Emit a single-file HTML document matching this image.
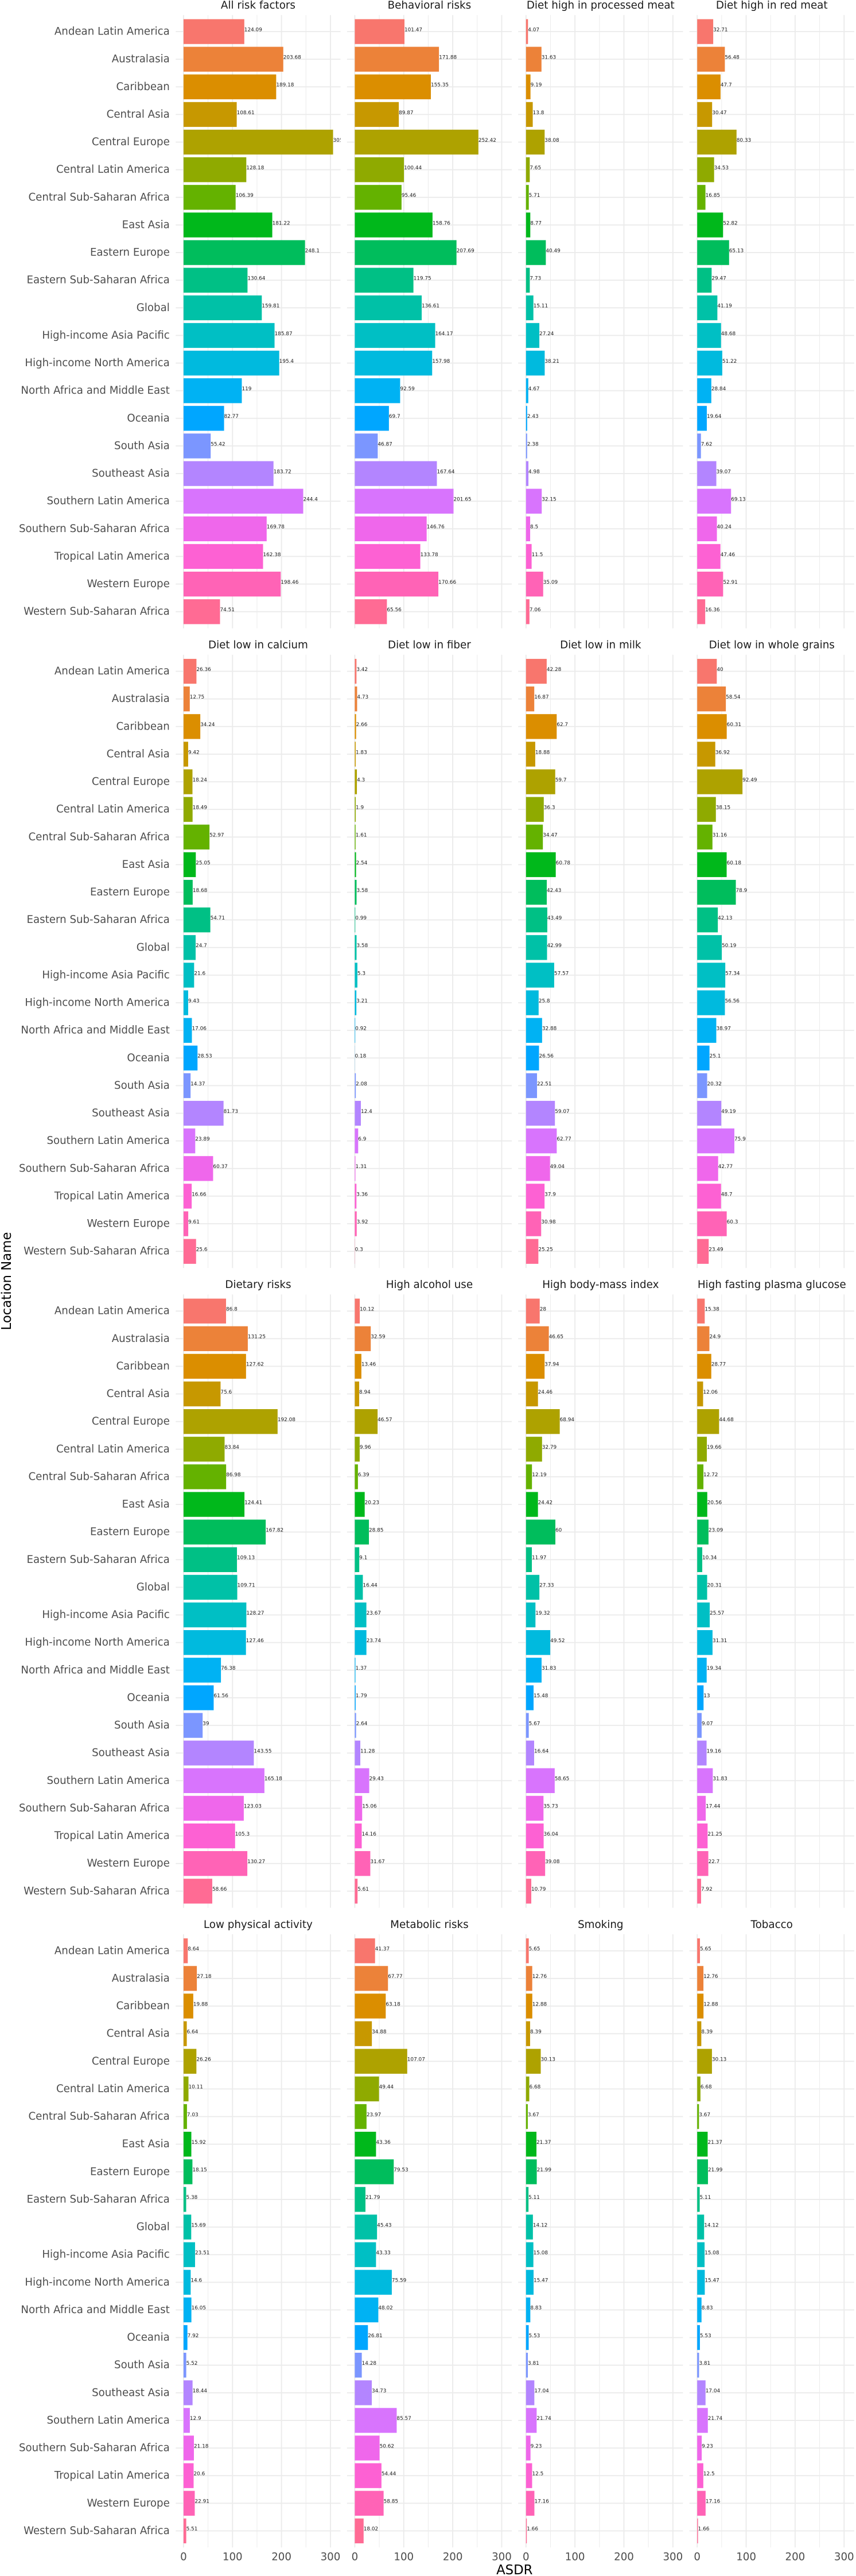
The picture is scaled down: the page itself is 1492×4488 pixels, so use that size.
<!DOCTYPE html>
<html lang="en">
<head>
<meta charset="utf-8">
<title>ASDR by location and risk factor</title>
<style>
  html, body { margin: 0; padding: 0; background: #ffffff; }
  #chart { display: block; }
  text { font-family: "DejaVu Sans", "Liberation Sans", sans-serif; }
</style>
</head>
<body>
<svg id="chart" xmlns="http://www.w3.org/2000/svg" width="1492" height="4488" viewBox="0 0 1492 4488">
  <rect x="0" y="0" width="1492" height="4488" fill="#ffffff"></rect>
  <defs id="clips"></defs>
  <g id="panels"></g>
  <text transform="translate(12,2232) rotate(-90)" text-anchor="middle" dominant-baseline="central" font-size="22.8" fill="#000000">Location Name</text>
  <text x="896.8" y="4478" text-anchor="middle" dominant-baseline="central" font-size="22.8" fill="#000000">ASDR</text>
</svg>
<script>
const categories = ["Andean Latin America","Australasia","Caribbean","Central Asia","Central Europe","Central Latin America","Central Sub-Saharan Africa","East Asia","Eastern Europe","Eastern Sub-Saharan Africa","Global","High-income Asia Pacific","High-income North America","North Africa and Middle East","Oceania","South Asia","Southeast Asia","Southern Latin America","Southern Sub-Saharan Africa","Tropical Latin America","Western Europe","Western Sub-Saharan Africa"];

const allRiskFactors = [124.09,203.68,189.18,108.61,305.37,128.18,106.39,181.22,248.1,130.64,159.81,185.87,195.4,119,82.77,55.42,183.72,244.4,169.78,162.38,198.46,74.51];
const behavioralRisks = [101.47,171.88,155.35,89.87,252.42,100.44,95.46,158.76,207.69,119.75,136.61,164.17,157.98,92.59,69.7,46.87,167.64,201.65,146.76,133.78,170.66,65.56];
const processedMeat = [4.07,31.63,9.19,13.8,38.08,7.65,5.71,8.77,40.49,7.73,15.11,27.24,38.21,4.67,2.43,2.38,4.98,32.15,8.5,11.5,35.09,7.06];
const redMeat = [32.71,56.48,47.7,30.47,80.33,34.53,16.85,52.82,65.13,29.47,41.19,48.68,51.22,28.84,19.64,7.62,39.07,69.13,40.24,47.46,52.91,16.36];
const lowCalcium = [26.36,12.75,34.24,9.42,18.24,18.49,52.97,25.05,18.68,54.71,24.7,21.6,9.43,17.06,28.53,14.37,81.73,23.89,60.37,16.66,9.61,25.6];
const lowFiber = [3.42,4.73,2.66,1.83,4.3,1.9,1.61,2.54,3.58,0.99,3.58,5.3,3.21,0.92,0.18,2.08,12.4,6.9,1.31,3.36,3.92,0.3];
const lowMilk = [42.28,16.87,62.7,18.88,59.7,36.3,34.47,60.78,42.43,43.49,42.99,57.57,25.8,32.88,26.56,22.51,59.07,62.77,49.04,37.9,30.98,25.25];
const lowWholeGrains = [40,58.54,60.31,36.92,92.49,38.15,31.16,60.18,78.9,42.13,50.19,57.34,56.56,38.97,25.1,20.32,49.19,75.9,42.77,48.7,60.3,23.49];
const dietaryRisks = [86.8,131.25,127.62,75.6,192.08,83.84,86.98,124.41,167.82,109.13,109.71,128.27,127.46,76.38,61.56,39,143.55,165.18,123.03,105.3,130.27,58.66];
const highAlcohol = [10.12,32.59,13.46,8.94,46.57,9.96,6.39,20.23,28.85,9.1,16.44,23.67,23.74,1.37,1.79,2.64,11.28,29.43,15.06,14.16,31.67,5.61];
const highBmi = [28,46.65,37.94,24.46,68.94,32.79,12.19,24.42,60,11.97,27.33,19.32,49.52,31.83,15.48,5.67,16.64,58.65,35.73,36.04,39.08,10.79];
const highGlucose = [15.38,24.9,28.77,12.06,44.68,19.66,12.72,20.56,23.09,10.34,20.31,25.57,31.31,19.34,13,9.07,19.16,31.83,17.44,21.25,22.7,7.92];
const lowActivity = [8.64,27.18,19.88,6.64,26.26,10.11,7.03,15.92,18.15,5.38,15.69,23.51,14.6,16.05,7.92,5.52,18.44,12.9,21.18,20.6,22.91,5.51];
const metabolicRisks = [41.37,67.77,63.18,34.88,107.07,49.44,23.97,43.36,79.53,21.79,45.43,43.33,75.59,48.02,26.81,14.28,34.73,85.57,50.62,54.44,58.85,18.02];
const smoking = [5.65,12.76,12.88,8.39,30.13,6.68,3.67,21.37,21.99,5.11,14.12,15.08,15.47,8.83,5.53,3.81,17.04,21.74,9.23,12.5,17.16,1.66];
const tobacco = [5.65,12.76,12.88,8.39,30.13,6.68,3.67,21.37,21.99,5.11,14.12,15.08,15.47,8.83,5.53,3.81,17.04,21.74,9.23,12.5,17.16,1.66];

const panelTitles = ["All risk factors","Behavioral risks","Diet high in processed meat","Diet high in red meat","Diet low in calcium","Diet low in fiber","Diet low in milk","Diet low in whole grains","Dietary risks","High alcohol use","High body-mass index","High fasting plasma glucose","Low physical activity","Metabolic risks","Smoking","Tobacco"];
const panelSeries = [allRiskFactors,behavioralRisks,processedMeat,redMeat,lowCalcium,lowFiber,lowMilk,lowWholeGrains,dietaryRisks,highAlcohol,highBmi,highGlucose,lowActivity,metabolicRisks,smoking,tobacco];
const majorTicks = [0,100,200,300];
const minorTicks = [50,150,250];

const NS = "http://www.w3.org/2000/svg";
const COLS = 4;
const PANEL_W = 287.2;
const PANEL_H = 1068.4;
const COL_X = [306.3, 604.8, 903.2, 1201.6];
const ROW_Y = [26.2, 1140.7, 2255.3, 3369.9];
const ZERO_OFFSET = 13.6;
const UNIT = 0.8535;
const STEP = PANEL_H / 22.2;
const BAR_H = STEP * 0.9;

function luvHue(h) {
  const L = 65, C = 100, rad = h * Math.PI / 180;
  const u = C * Math.cos(rad), v = C * Math.sin(rad);
  const Y = Math.pow((L + 16) / 116, 3);
  const un = 0.19783, vn = 0.46832;
  const up = u / (13 * L) + un, vp = v / (13 * L) + vn;
  const X = 9 * Y * up / (4 * vp);
  const Z = -X / 3 - 5 * Y + 3 * Y / vp;
  const lin = [
    3.2406 * X - 1.5372 * Y - 0.4986 * Z,
    -0.9689 * X + 1.8758 * Y + 0.0415 * Z,
    0.0557 * X - 0.2040 * Y + 1.0570 * Z
  ];
  const hex = lin.map(function (c) {
    const g = c <= 0.0031308 ? 12.92 * c : 1.055 * Math.pow(Math.max(c, 0), 1 / 2.4) - 0.055;
    const n = Math.round(Math.min(1, Math.max(0, g)) * 255);
    return n.toString(16).padStart(2, "0");
  });
  return "#" + hex.join("");
}

function categoryColor(i) {
  return luvHue(15 + 360 * i / categories.length);
}

function make(tag, attrs, parent) {
  const el = document.createElementNS(NS, tag);
  Object.keys(attrs).forEach(function (k) { el.setAttribute(k, attrs[k]); });
  parent.appendChild(el);
  return el;
}

const root = document.getElementById("panels");
const clips = document.getElementById("clips");

panelSeries.forEach(function (series, p) {
  const col = p % COLS;
  const row = Math.floor(p / COLS);
  const left = COL_X[col];
  const top = ROW_Y[row];
  const xScale = function (v) { return left + ZERO_OFFSET + v * UNIT; };
  const yScale = function (i) { return top + STEP * 0.6 + i * STEP; };

  const group = make("g", {}, root);
  
  

  const clip = make("clipPath", { id: "clip-" + p }, clips);
  make("rect", { x: left, y: top, width: PANEL_W, height: PANEL_H }, clip);

  const title = make("text", {
    x: left + PANEL_W / 2, y: top - 16.6,
    "text-anchor": "middle", "dominant-baseline": "central",
    "font-size": 18.3, fill: "#1a1a1a"
  }, group);
  title.textContent = panelTitles[p];
  
  

  minorTicks.forEach(function (t) {
    const line = make("line", { x1: xScale(t), x2: xScale(t), y1: top, y2: top + PANEL_H, stroke: "#ebebeb", "stroke-width": 1 }, group);
    
    
  });
  majorTicks.forEach(function (t) {
    const line = make("line", { x1: xScale(t), x2: xScale(t), y1: top, y2: top + PANEL_H, stroke: "#ebebeb", "stroke-width": 1.9 }, group);
    
    
  });
  categories.forEach(function (c, i) {
    const line = make("line", { x1: left, x2: left + PANEL_W, y1: yScale(i), y2: yScale(i), stroke: "#ebebeb", "stroke-width": 1.9 }, group);
    
    
  });

  const marks = make("g", { "clip-path": "url(#clip-" + p + ")" }, group);
  
  

  series.forEach(function (v, i) {
    const bar = make("rect", {
      x: xScale(0), y: yScale(i) - BAR_H / 2,
      width: xScale(v) - xScale(0), height: BAR_H,
      fill: categoryColor(i)
    }, marks);
    
    

    const label = make("text", {
      x: xScale(v), y: yScale(i) - 2.7,
      "dominant-baseline": "central", "font-size": 8.9, fill: "#1a1a1a"
    }, marks);
    label.textContent = String(v);
    
    
  });

  if (col === 0) {
    categories.forEach(function (c, i) {
      const tick = make("text", {
        x: 295.8, y: yScale(i), "text-anchor": "end",
        "dominant-baseline": "central", "font-size": 18.2, fill: "#4d4d4d"
      }, group);
      tick.textContent = c;
      
      
    });
  }

  if (row === ROW_Y.length - 1) {
    majorTicks.forEach(function (t) {
      const tick = make("text", {
        x: xScale(t), y: 4455, "text-anchor": "middle",
        "dominant-baseline": "central", "font-size": 18.2, fill: "#4d4d4d"
      }, group);
      tick.textContent = String(t);
      
      
    });
  }
});
</script>
</body>
</html>
